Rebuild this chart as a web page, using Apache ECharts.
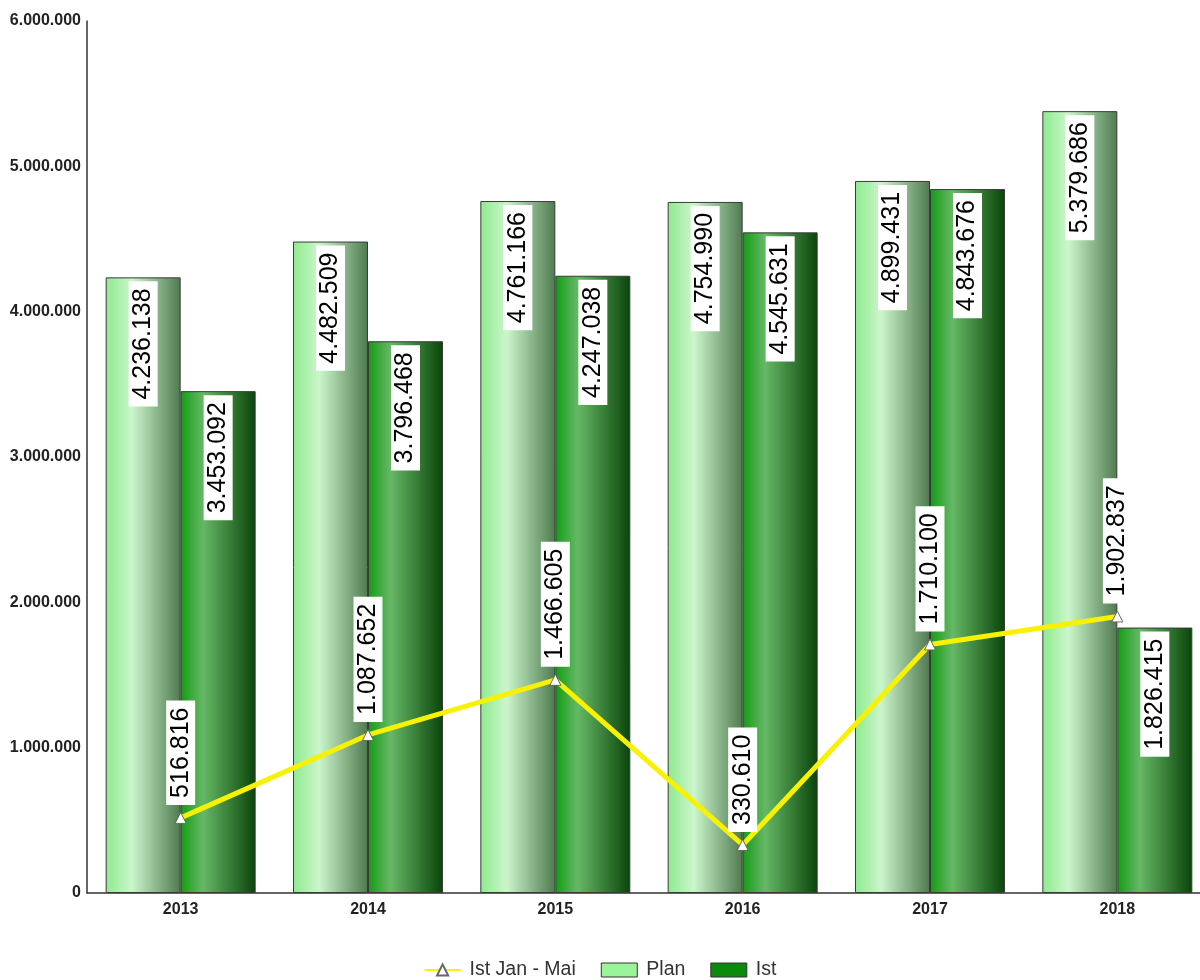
<!DOCTYPE html>
<html>
<head>
<meta charset="utf-8">
<script src="https://cdn.jsdelivr.net/npm/echarts@6/dist/echarts.min.js"></script>
<style>html,body{margin:0;padding:0;background:#fff}#c{width:1200px;height:980px}</style>
</head>
<body>
<div id="c"></div>
<script>
const categories = ['2013', '2014', '2015', '2016', '2017', '2018'];
const planValues = [4236138, 4482509, 4761166, 4754990, 4899431, 5379686];
const istValues = [3453092, 3796468, 4247038, 4545631, 4843676, 1826415];
const istJanMaiValues = [516816, 1087652, 1466605, 330610, 1710100, 1902837];
const yTicks = [0, 1000000, 2000000, 3000000, 4000000, 5000000, 6000000];

function fmt(v) {
  return String(Math.round(v)).replace(/\B(?=(\d{3})+(?!\d))/g, '.');
}
const FONT = "'Liberation Sans', Arial, sans-serif";
const labelCommon = {
  show: true,
  rotate: 90,
  verticalAlign: 'middle',
  color: '#000',
  fontSize: 25,
  fontFamily: FONT,
  backgroundColor: '#fff',
  padding: [3, 7, 1, 7],
  formatter: p => fmt(p.value)
};
const planGrad = new echarts.graphic.LinearGradient(0, 0, 1, 0, [
  { offset: 0, color: '#8eea8e' },
  { offset: 0.35, color: '#cbf6cb' },
  { offset: 1, color: '#4f7a4f' }
]);
const istGrad = new echarts.graphic.LinearGradient(0, 0, 1, 0, [
  { offset: 0, color: '#149c14' },
  { offset: 0.3, color: '#66b866' },
  { offset: 1, color: '#0a440a' }
]);
const chart = echarts.init(document.getElementById('c'));
chart.setOption({
  animation: false,
  backgroundColor: '#fff',
  grid: { left: 87, top: 21, width: 1124, bottom: 87, containLabel: false, outerBoundsMode: 'none' },
  legend: {
    top: 955,
    left: 'center',
    itemWidth: 36,
    itemHeight: 14,
    itemGap: 25,
    textStyle: { fontSize: 19.5, color: '#333', fontFamily: FONT, padding: [0, 0, 0, 4] },
    data: [
      { name: 'Ist Jan - Mai' },
      { name: 'Plan', icon: 'rect', itemStyle: { color: '#9af59a', borderColor: '#333', borderWidth: 1 } },
      { name: 'Ist', icon: 'rect', itemStyle: { color: '#0a8a0a', borderColor: '#333', borderWidth: 1 } }
    ]
  },
  xAxis: {
    type: 'category',
    data: categories,
    axisLine: { lineStyle: { color: '#333', width: 1.5 } },
    axisTick: { show: false },
    axisLabel: { fontSize: 16, fontWeight: 'bold', color: '#222', fontFamily: FONT, margin: 9 }
  },
  yAxis: {
    type: 'value',
    min: yTicks[0],
    max: yTicks[yTicks.length - 1],
    interval: yTicks[1] - yTicks[0],
    splitLine: { show: false },
    axisLine: { show: true, lineStyle: { color: '#333', width: 1.5 } },
    axisTick: { show: false },
    axisLabel: { fontSize: 16, fontWeight: 'bold', color: '#222', fontFamily: FONT, margin: 6, formatter: v => fmt(v) }
  },
  series: [
    {
      name: 'Plan', type: 'bar', data: planValues, barWidth: 75, barGap: '0%',
      itemStyle: { color: planGrad, borderColor: '#3a3a3a', borderWidth: 1 },
      label: Object.assign({}, labelCommon, { position: 'insideTop', align: 'right', distance: 4 }),
      z: 2
    },
    {
      name: 'Ist', type: 'bar', data: istValues, barWidth: 75,
      itemStyle: { color: istGrad, borderColor: '#3a3a3a', borderWidth: 1 },
      label: Object.assign({}, labelCommon, { position: 'insideTop', align: 'right', distance: 4 }),
      z: 2
    },
    {
      name: 'Ist Jan - Mai', type: 'line', data: istJanMaiValues,
      lineStyle: { color: '#f8f200', width: 5 },
      itemStyle: { color: '#fff', borderColor: '#666', borderWidth: 1 },
      symbol: 'triangle', symbolSize: 11,
      label: Object.assign({}, labelCommon, { position: 'top', align: 'left', distance: 7 }),
      z: 5
    }
  ]
});
</script>
</body>
</html>
